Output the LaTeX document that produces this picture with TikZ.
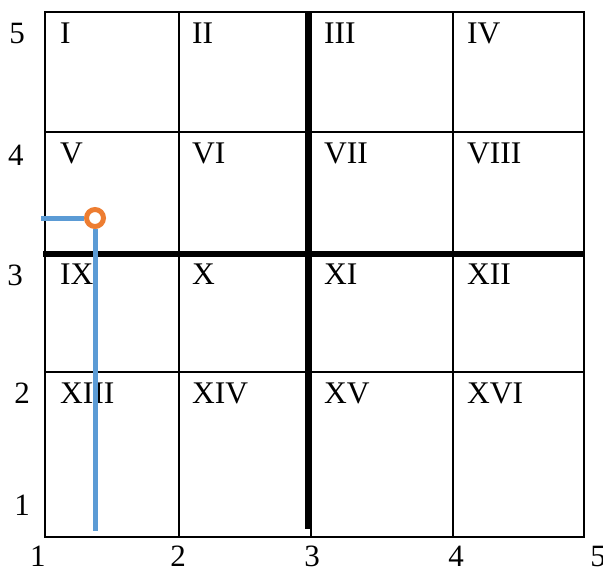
\documentclass[tikz,border=0pt]{standalone}
\usepackage{fontspec}
\setmainfont{Liberation Serif}
\definecolor{gblue}{HTML}{5B9BD5}
\definecolor{gorange}{HTML}{ED7D31}
\begin{document}
\begin{tikzpicture}[x=1pt,y=-1pt,
  gridline/.style={line width=2pt,black},
  thickline/.style={line width=6pt,black},
  pathline/.style={line width=5pt,gblue},
  cell/.style={anchor=base west,inner sep=0pt,font=\fontsize{31.5}{31.5}\selectfont},
  axis/.style={anchor=base,inner sep=0pt,font=\fontsize{31}{31}\selectfont}]
\useasboundingbox (0,0) rectangle (603,571);
% grid
\draw[gridline] (45,12) rectangle (584,537);
\foreach \x in {179,311,453} \draw[gridline] (\x,12) -- (\x,537);
\foreach \y in {132,372} \draw[gridline] (45,\y) -- (584,\y);
\draw[gridline] (45,253) -- (584,253);
% thick lines
\coordinate (hl) at (43,254);
\coordinate (hr) at (583,254);
\coordinate (vt) at (308,12);
\coordinate (vb) at (308,529);
\draw[thickline] (hl) -- (hr);
\draw[thickline] (vt) -- (vb);
% cell labels
\foreach \t/\x/\y in {I/60/43,II/192/43,III/324/43,IV/467/43,
  V/60/163,VI/192/163,VII/324/163,VIII/467/163,
  IX/60/284,X/192/284,XI/324/284,XII/467/284,
  XIII/60/403,XIV/192/403,XV/324/403,XVI/467/403}
  \node[cell] at (\x,\y) {\t};
% axis labels
\node[axis] (y5) at (17,43) {5};
\node[axis] (y4) at (16,165) {4};
\node[axis] (y3) at (15,285) {3};
\node[axis] (y2) at (22,403) {2};
\node[axis] (y1) at (22,515) {1};
\node[axis] (x1) at (38,566) {1};
\node[axis] (x2) at (178,566) {2};
\node[axis] (x3) at (312,566) {3};
\node[axis] (x4) at (456,566) {4};
\node[axis] (x5) at (598,566) {5};
% blue path with orange marker
\coordinate (ps) at (41,218);
\coordinate (pe) at (95,531);
\node[circle,draw=gorange,line width=5pt,fill=white,minimum size=17pt,inner sep=0pt] (m) at (95,218) {};
\draw[pathline] (ps) -- (m.west);
\draw[pathline] (m.south) -- (pe);
\end{tikzpicture}
\end{document}
